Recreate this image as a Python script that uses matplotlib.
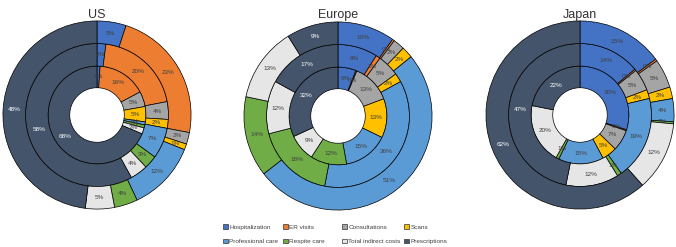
import numpy as np
import matplotlib
matplotlib.use('Agg')
import matplotlib.pyplot as plt
from matplotlib.patches import Patch

plt.rcParams['font.family'] = ['Liberation Sans', 'DejaVu Sans']

# categories, clockwise from 12 o'clock
categories = ['Hospitalization', 'ER visits', 'Consultations', 'Scans',
              'Professional care', 'Respite care', 'Total indirect costs', 'Prescriptions']
colors = ['#4472C4', '#ED7D31', '#A5A5A5', '#FFC000',
          '#5B9BD5', '#70AD47', '#E7E6E6', '#44546A']

regions = ['US', 'Europe', 'Japan']

# shares (%) per ring: inner, middle, outer
us_inner = [1, 16, 5, 5, 1, 1, 2, 68]
us_middle = [2, 20, 4, 2, 7, 3, 4, 58]
us_outer = [5, 23, 2, 1, 12, 4, 5, 48]

eu_inner = [6, 0, 13, 13, 15, 12, 9, 32]
eu_middle = [9, 1, 5, 2, 36, 18, 12, 17]
eu_outer = [10, 0, 2, 2, 51, 14, 13, 9]

jp_inner = [30, 0, 7, 5, 15, 1, 20, 22]
jp_middle = [14, 0, 5, 2, 19, 1, 12, 47]
jp_outer = [15, 0, 5, 2, 4, 0, 12, 62]

data = {
    'US': [us_inner, us_middle, us_outer],
    'Europe': [eu_inner, eu_middle, eu_outer],
    'Japan': [jp_inner, jp_middle, jp_outer],
}

#Ring geometry (outer radius, width)
rings = [(0.52, 0.23), (0.76, 0.24), (1.0, 0.24)]

#Panel centres in pixels (x, y from top) and radius
W, H = 676, 247
centres = {'US': (97, 115), 'Europe': (338, 116), 'Japan': (580, 115)}
R = 95

fig = plt.figure(figsize=(W / 100, H / 100), dpi=100)

for region in regions:
    cx, cy = centres[region]
    ax = fig.add_axes([(cx - R) / W, (H - cy - R) / H, 2 * R / W, 2 * R / H])
    for vals, (r, w) in zip(data[region], rings):
        plot_vals = [v if v > 0 else 0.35 for v in vals]
        wedges, _ = ax.pie(plot_vals, radius=r, startangle=90, counterclock=False,
                           colors=colors,
                           wedgeprops=dict(width=w, edgecolor='black', linewidth=0.5))
        for wedge, v, cat in zip(wedges, vals, categories):
            ang = np.deg2rad((wedge.theta1 + wedge.theta2) / 2)
            rr = r - w / 2
            tc = 'white' if cat == 'Prescriptions' else '#404040'
            ax.text(rr * np.cos(ang), rr * np.sin(ang), f'{v}%', ha='center', va='center',
                    fontsize=4.6, color=tc)
    ax.set_xlim(-1.01, 1.01)
    ax.set_ylim(-1.01, 1.01)
    ax.set_aspect('equal')
    ax.axis('off')
    fig.text(cx / W, 1 - 15 / H, region, ha='center', va='center', fontsize=9, color='#333333')

#Legend: four columns of two entries, placed like the original
handles = [Patch(facecolor=c, edgecolor='#333333', linewidth=0.5, label=l)
           for c, l in zip(colors, categories)]
col_x = [219, 279, 338, 400]
for k, x in enumerate(col_x):
    idx = [k, k + 4]
    leg = fig.legend([handles[i] for i in idx], [categories[i] for i in idx],
                     loc='upper left', bbox_to_anchor=(x / W, 1 - 220 / H),
                     fontsize=4.6, frameon=False, handlelength=0.7, handleheight=0.7,
                     handletextpad=0.2, labelspacing=1.4, borderpad=0.2,
                     labelcolor='#404040')

plt.savefig('out.png', dpi=100)
